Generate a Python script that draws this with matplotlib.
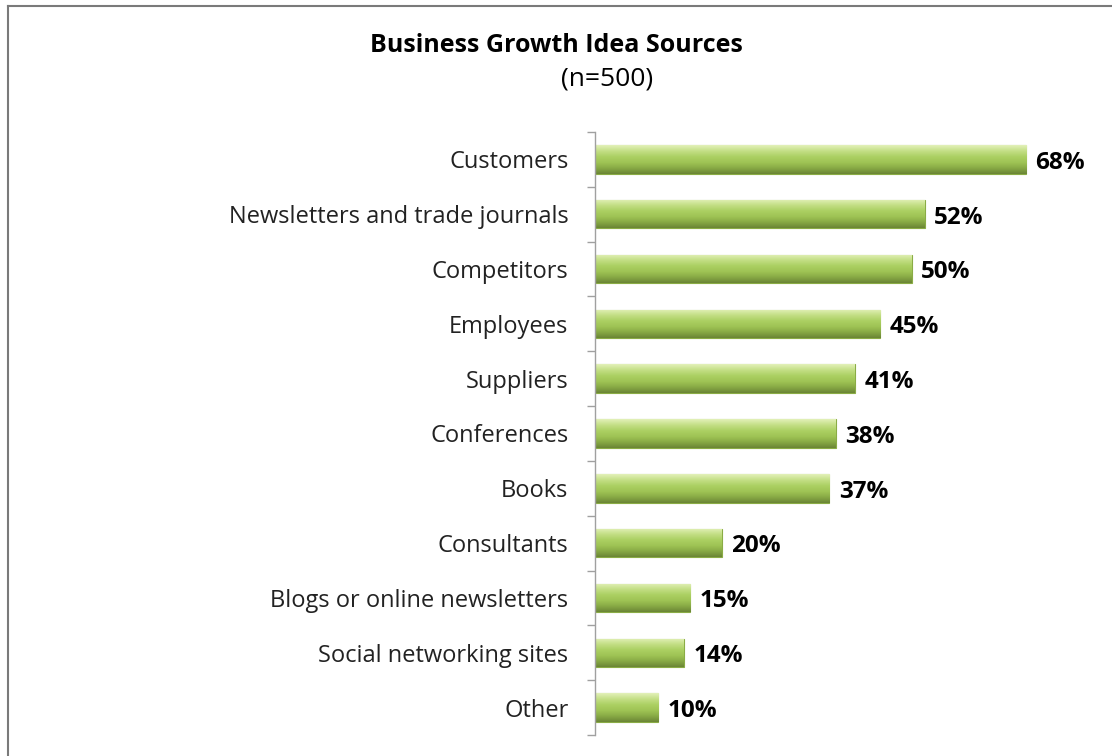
import numpy as np
import matplotlib.pyplot as plt
from matplotlib.lines import Line2D
from matplotlib.colors import LinearSegmentedColormap

sources = ['Customers', 'Newsletters and trade journals', 'Competitors', 'Employees',
           'Suppliers', 'Conferences', 'Books', 'Consultants',
           'Blogs or online newsletters', 'Social networking sites', 'Other']
shares = [68, 52, 50, 45, 41, 38, 37, 20, 15, 14, 10]

plt.rcParams['font.family'] = ['Open Sans', 'DejaVu Sans']

fig = plt.figure(figsize=(11.12, 7.56), dpi=100)
ax = fig.add_axes([0.535, 0.0278, 0.456, 0.7976])

# green bars with a light-to-dark vertical shading
shade = LinearSegmentedColormap.from_list(
    'shade', ['#e2f0b8', '#c4df86', '#acd063', '#9fc455', '#88aa45', '#6b8636'])
grad = np.linspace(0, 1, 64).reshape(-1, 1)
ypos = np.arange(len(sources))
bars = ax.barh(ypos, shares, height=0.52, color='#a4c95a', edgecolor='#8aac45', linewidth=0.8)
for i, b in enumerate(bars):
    x0, y0 = b.get_x(), b.get_y()
    w, h = b.get_width(), b.get_height()
    im = ax.imshow(grad, cmap=shade, aspect='auto', extent=(x0, x0 + w, y0 + h, y0), zorder=2)
    im.set_clip_path(b)
    ax.text(x0 + w + 1.5, ypos[i] + 0.06, f'{shares[i]}%',
            va='center', ha='left', fontsize=17.5, fontweight='bold', color='black')

ax.set_xlim(0, 80)
ax.set_ylim(len(sources) - 0.5, -0.5)
ax.set_yticks(ypos)
ax.set_yticklabels(sources, fontsize=17, color='#222222')
ax.set_yticks(np.arange(-0.5, len(sources), 1), minor=True)
ax.tick_params(axis='y', which='major', length=0, pad=19)
ax.tick_params(axis='y', which='minor', length=6, color='#a0a0a0', width=1)
ax.set_xticks([])
for s in ['top', 'right', 'bottom']:
    ax.spines[s].set_visible(False)
ax.spines['left'].set_color('#a0a0a0')
ax.spines['left'].set_linewidth(1)

fig.text(0.5, 0.94, 'Business Growth Idea Sources', ha='center', va='center',
         fontsize=18, fontweight='bold', color='black')
fig.text(0.546, 0.895, '(n=500)', ha='center', va='center', fontsize=19, color='black')

# chart frame
fig.add_artist(Line2D([8 / 1112, 8 / 1112], [0, 1 - 6 / 756], transform=fig.transFigure,
                      color='#7a7a7a', linewidth=1.5))
fig.add_artist(Line2D([8 / 1112, 1], [1 - 6 / 756, 1 - 6 / 756], transform=fig.transFigure,
                      color='#7a7a7a', linewidth=1.5))

fig.savefig('out.png', dpi=100)
